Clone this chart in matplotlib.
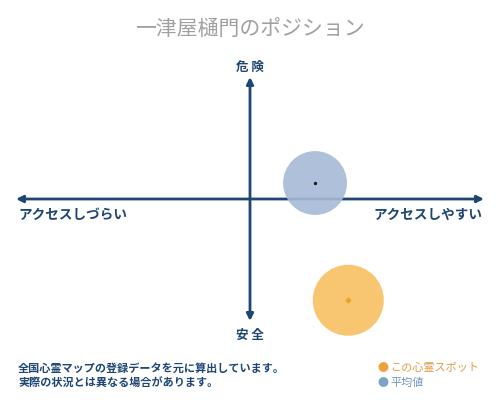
import matplotlib
matplotlib.use("Agg")
import matplotlib.pyplot as plt

plt.rcParams['font.family'] = ['Noto Sans CJK JP', 'DejaVu Sans']

title = "一津屋樋門のポジション"
y_labels = ["危 険", "安 全"]
x_labels = ["アクセスしづらい", "アクセスしやすい"]
series_names = ["この心霊スポット", "平均値"]
x_values = [0.42, 0.278]
y_values = [-0.83, 0.131]
bubble_sizes = [2612, 2116]
notes = ["全国心霊マップの登録データを元に算出しています。", "実際の状況とは異なる場合があります。"]

navy = "#1d4672"
fill_colors = ["#f8c062", "#a6bbd6"]
dot_colors = ["#f0a020", "#1a1a1a"]
legend_text_colors = ["#e39a48", "#7495bd"]
legend_dot_colors = ["#f0a040", "#7ea3c8"]

fig = plt.figure(figsize=(5, 4), dpi=100)
fig.patch.set_facecolor("white")

ax = fig.add_axes([16/500, (400-321)/400, 468/500, 244/400])
ax.set_xlim(-1, 1)
ax.set_ylim(-1, 1)
ax.axis("off")

# axes arrows
ax.annotate("", xy=(-1, 0), xytext=(1, 0),
            arrowprops=dict(arrowstyle="<|-|>", color=navy, lw=2, mutation_scale=10, shrinkA=0, shrinkB=0))
ax.annotate("", xy=(0, 1), xytext=(0, -1),
            arrowprops=dict(arrowstyle="<|-|>", color=navy, lw=2, mutation_scale=10, shrinkA=0, shrinkB=0))

# bubbles (draw average first then spot)
for i in [1, 0]:
    ax.scatter([x_values[i]], [y_values[i]], s=bubble_sizes[i], color=fill_colors[i], alpha=0.9,
               edgecolors="none", zorder=3, clip_on=False)
    ax.scatter([x_values[i]], [y_values[i]], s=2 if i == 1 else 5, color=dot_colors[i],
               marker="o" if i == 1 else "D", zorder=4, clip_on=False)

fig.text(0.5, 1 - 30/400, title, ha="center", va="center", fontsize=15, color="#a0a0a0")
fig.text(250/500, 1 - 67/400, y_labels[0], ha="center", va="center", fontsize=9, color=navy, fontweight="bold")
fig.text(250/500, 1 - 335/400, y_labels[1], ha="center", va="center", fontsize=9, color=navy, fontweight="bold")
fig.text(18/500, 1 - 215/400, x_labels[0], ha="left", va="center", fontsize=9.8, color=navy, fontweight="bold")
fig.text(482/500, 1 - 215/400, x_labels[1], ha="right", va="center", fontsize=9.8, color=navy, fontweight="bold")

fig.text(18/500, 1 - 368/400, notes[0], ha="left", va="center", fontsize=8, color=navy, fontweight="bold")
fig.text(18/500, 1 - 383/400, notes[1], ha="left", va="center", fontsize=8, color=navy, fontweight="bold")

for i, yy in enumerate([368, 383]):
    fig.text(383/500, 1 - yy/400, "●", ha="center", va="center", fontsize=8, color=legend_dot_colors[i])
    fig.text(390/500, 1 - yy/400, series_names[i], ha="left", va="center", fontsize=8, color=legend_text_colors[i])

fig.savefig("out.png", dpi=100)
